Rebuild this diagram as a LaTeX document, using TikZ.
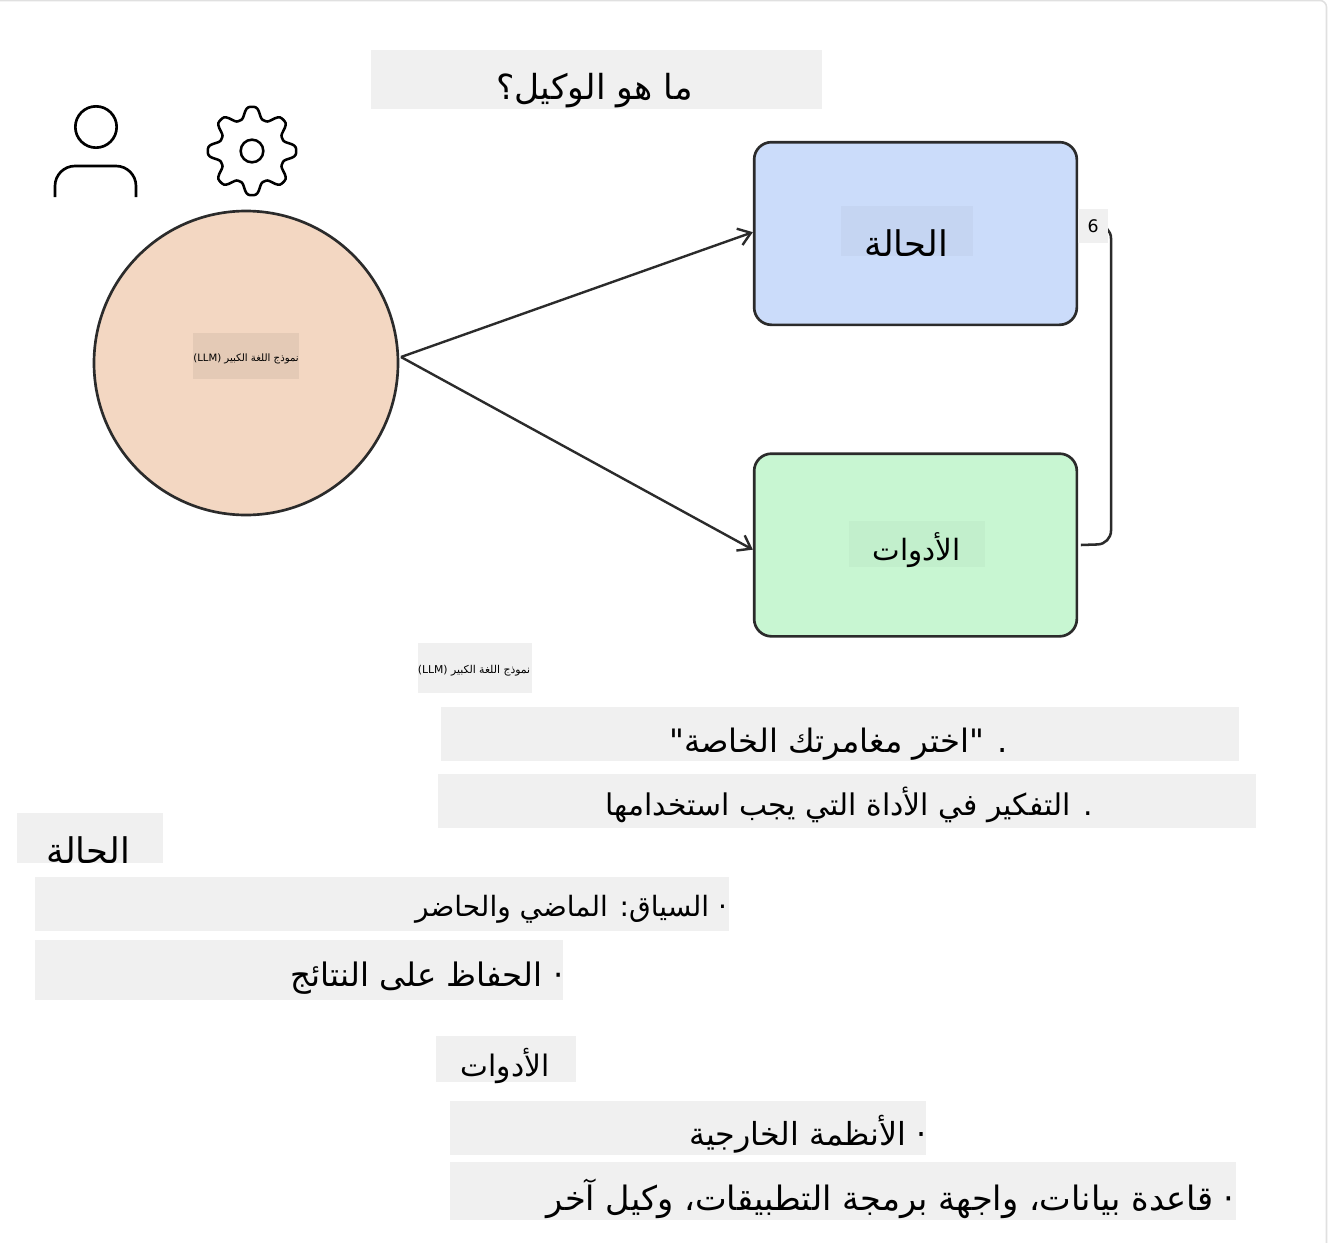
\documentclass[tikz,border=0pt]{standalone}
\usepackage{fontspec}
\usetikzlibrary{positioning, arrows.meta}
\TeXXeTstate=1
\newfontfamily\arabicfont[Script=Arabic]{DejaVu Sans}
\definecolor{patchgray}{HTML}{F0F0F0}
\definecolor{inkdark}{HTML}{2B2B2B}
\definecolor{llmfill}{HTML}{F3D7C2}
\definecolor{statefill}{HTML}{CBDCFA}
\definecolor{toolfill}{HTML}{C8F6D2}
\tikzset{
patch/.style={rectangle,fill=patchgray,inner sep=0pt},
word/.style={inner sep=0pt,text=black,font=\arabicfont\fontsize{#1}{#1}\selectfont},
card/.style={rectangle,draw=inkdark,line width=2pt,rounded corners=13pt,minimum width=242pt,minimum height=137pt},
line/.style={draw=inkdark,line width=1.8pt,-{Straight Barb[length=9pt,width=13pt,line width=1.8pt]}},
edge/.style={draw=inkdark,line width=1.9pt,rounded corners=10pt}
}
\begin{document}
\begin{tikzpicture}[x=0.75pt,y=-0.75pt,declare function={gearr(\a)=38.5+5.7*(1.5*cos(8*\a)-0.5*cos(8*\a)*cos(8*\a)*cos(8*\a));}]
 \useasboundingbox (0,0) rectangle (1334,1242);
 \draw[black!12,line width=1.2pt,rounded corners=5pt] (-5,0.5) -- (1326.5,0.5) -- (1326.5,1250);

 % user and gear
 \node[circle,draw=black,line width=2pt,minimum size=31pt,inner sep=0pt] (head) at (96,127) {};
 \coordinate (shoulderL) at (55,197);
 \coordinate (shoulderR) at (136,197);
 \draw[line width=2pt,rounded corners=15pt] (shoulderL) -- (55,166) -- (136,166) -- (shoulderR);
 \coordinate (gear) at (252,151);
 \draw[line width=1.9pt,shift={(gear)},smooth,samples=145,domain=0:360] plot ({gearr(\x)*cos(\x)},{gearr(\x)*sin(\x)}) -- cycle;
 \node[circle,draw=black,line width=1.9pt,minimum size=17pt,inner sep=0pt] (hub) at (gear) {};

 % llm
 \node[circle,draw=inkdark,fill=llmfill,line width=2pt,minimum size=228pt,inner sep=0pt] (llm) at (246,363) {};
 \node[patch,fill=black!6!llmfill,minimum width=79pt,minimum height=35pt] (llmpatch) at (246,356) {};
 \node[word=7.6] (llmtext) at (246,359) {\beginR نموذج اللغة الكبير (\beginL LLM\endL)\endR};

 % state and tools
 \node[card,fill=statefill] (state) at (915.5,233.5) {};
 \node[patch,fill=black!3!statefill,minimum width=99pt,minimum height=37pt] (statepatch) at (907,231) {};
 \node[word=26.5] (statetext) at (906,243) {\beginR الحالة\endR};
 \node[card,fill=toolfill] (tools) at (915.5,545) {};
 \node[patch,fill=black!3!toolfill,minimum width=102pt,minimum height=34pt] (toolpatch) at (917,544) {};
 \node[word=22] (tooltext) at (916.5,550) {\beginR الأدوات\endR};

 % arrows
 \coordinate (fork) at (401,357);
 \draw[line] (fork) -- ([yshift=1pt]state.west);
 \draw[line] (fork) -- ([yshift=-3.5pt]tools.west);
 \coordinate (loopend) at (1105,225);
 \draw[edge] (tools.east) ++(2pt,0) -- (1111,544) -- (1111,225) -- (loopend);
 \node[patch,minimum width=22pt,minimum height=26pt] (sixpatch) at (1093,226) {};
 \node[word=13] (sixtext) at (1093,226) {6};

 % title
 \node[patch,minimum width=338pt,minimum height=44pt] (titlepatch) at (596.5,79.5) {};
 \node[word=25.9] (titletext) at (594.5,90.5) {\beginR ما هو الوكيل؟\endR};

 % text rows
 \node[patch,minimum width=85pt,minimum height=38pt] (llmrow) at (475,668) {};
 \node[word=8.1] (llmrowtext) at (474,671) {\beginR نموذج اللغة الكبير (\beginL LLM\endL)\endR};
 \node[patch,minimum width=598pt,minimum height=41pt] (adventure) at (840,734) {};
 \node[word=24.2] (adventuretext) at (838.5,744) {\beginR . "اختر مغامرتك الخاصة"\endR};
 \node[patch,minimum width=614pt,minimum height=41pt] (thinking) at (847,801) {};
 \node[word=22.4] (thinkingtext) at (849,805) {\beginR . التفكير في الأداة التي يجب استخدامها\endR};
 \node[patch,minimum width=109pt,minimum height=38pt] (statehead) at (90,838) {};
 \node[word=26.5] (stateheadtext) at (88,850) {\beginR الحالة\endR};
 \node[patch,minimum width=521pt,minimum height=40pt] (context) at (382,904) {};
 \node[word=21] (contexttext) at (571,909) {\beginR · السياق: الماضي والحاضر\endR};
 \node[patch,minimum width=396pt,minimum height=45pt] (results) at (299,970) {};
 \node[word=24.3] (resultstext) at (427,978) {\beginR · الحفاظ على النتائج\endR};
 \node[patch,minimum width=105pt,minimum height=35pt] (toolshead) at (506,1059) {};
 \node[word=22.2] (toolsheadtext) at (505,1066) {\beginR الأدوات\endR};
 \node[patch,minimum width=357pt,minimum height=41pt] (external) at (688,1128) {};
 \node[word=23.8] (externaltext) at (808,1134) {\beginR · الأنظمة الخارجية\endR};
 \node[patch,minimum width=589pt,minimum height=43pt] (database) at (843,1191) {};
 \node[word=25.2] (databasetext) at (890.5,1199) {\beginR · قاعدة بيانات، واجهة برمجة التطبيقات، وكيل آخر\endR};
\end{tikzpicture}
\end{document}
